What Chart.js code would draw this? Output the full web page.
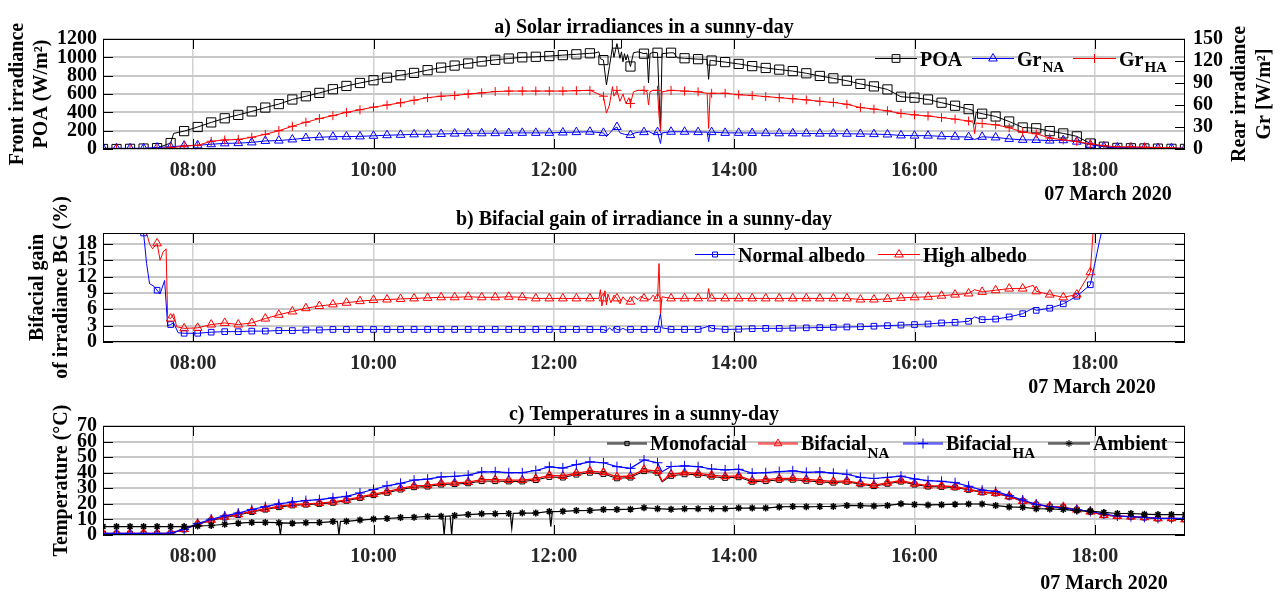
<!DOCTYPE html>
<html>
<head>
<meta charset="utf-8">
<script src="https://cdn.jsdelivr.net/npm/chart.js@4.4.1/dist/chart.umd.min.js"></script>
<style>
  body { margin: 0; background: #fff; }
  canvas { position: absolute; left: 0; }
</style>
</head>
<body>
<canvas id="irr" width="1281" height="205" style="top:0px"></canvas>
<canvas id="bg" width="1281" height="220" style="top:180px"></canvas>
<canvas id="temp" width="1281" height="192" style="top:400px"></canvas>
<script>
// sample times (every marker)
const times = [
  "07:00","07:09","07:18","07:27","07:36","07:45","07:54",
  "08:03","08:12","08:21","08:30","08:39","08:48","08:57",
  "09:06","09:15","09:24","09:33","09:42","09:51",
  "10:00","10:09","10:18","10:27","10:36","10:45","10:54",
  "11:03","11:12","11:21","11:30","11:39","11:48","11:57",
  "12:06","12:15","12:24","12:33","12:42","12:51",
  "13:00","13:09","13:18","13:27","13:36","13:45","13:54",
  "14:03","14:12","14:21","14:30","14:39","14:48","14:57",
  "15:06","15:15","15:24","15:33","15:42","15:51",
  "16:00","16:09","16:18","16:27","16:36","16:45","16:54",
  "17:03","17:12","17:21","17:30","17:39","17:48","17:57",
  "18:06","18:15","18:24","18:33","18:42","18:51","19:00"
];
const xTickHours = [8, 10, 12, 14, 16, 18];
const xTickLabels = ["08:00", "10:00", "12:00", "14:00", "16:00", "18:00"];
const dateLabel = "07 March 2020";

// a) irradiances
const poa = [0, 0, 2, 5, 10, 65, 195,
  240, 290, 335, 372, 410, 452, 490,
  540, 575, 612, 652, 688, 720,
  750, 778, 805, 830, 860, 888, 910,
  933, 955, 973, 987, 1000, 1006, 1014,
  1024, 1033, 1044, 970, 1150, 900,
  1040, 1050, 1050, 990, 980, 965, 948,
  928, 904, 884, 866, 850, 826, 797,
  771, 745, 710, 683, 650, 570,
  560, 540, 505, 472, 435, 385, 355,
  300, 235, 226, 195, 170, 138, 60,
  25, 12, 8, 6, 4, 2, 1];
const grNA = [1, 1, 1, 1, 2, 3, 4.5,
  5, 6.5, 7.7, 8, 9, 11, 11.5,
  13, 15, 16, 16.8, 17, 17.2,
  18, 18.8, 19.3, 20, 20, 20.5, 21,
  21.4, 21.4, 21.6, 21.8, 22, 22, 22,
  22.5, 23, 23.5, 22, 30, 19,
  23, 23, 23.5, 23.5, 23, 23, 22,
  22, 21.8, 21.6, 21.4, 21.4, 21.2, 21,
  21, 20.8, 20.6, 20.3, 19.8, 18.5,
  18.2, 18.2, 17.2, 16.8, 16.3, 16.6, 15.8,
  13.8, 12.5, 12.3, 11.5, 12, 10, 5.8,
  3.2, 2, 1.8, 1.6, 1.4, 1.2, 1];
const grHA = [0, 0, 0, 0, 0.5, 1.5, 4,
  5, 10.5, 12.3, 13, 16, 20, 25,
  31, 36.5, 41.5, 45.5, 50, 53.5,
  57, 60, 63, 66.5, 70, 72, 73,
  75, 76.5, 78.3, 79, 79, 79, 79,
  79, 79.5, 80, 72, 80, 62,
  80, 80, 80, 79, 78, 76, 76,
  74, 73, 71.5, 70, 68.5, 67, 65,
  63.5, 61, 56.5, 54.5, 52, 48.5,
  46.5, 45, 42.8, 40.7, 38.2, 34.7, 33,
  29, 23, 20.8, 15, 12.5, 10.2, 7,
  4.5, 3, 3, 2.5, 2, 1.5, 1];
// extra samples between markers (spikes, cloud passages)
const poaDetail = [["07:47", 170], ["12:27", 1046], ["12:30", 1060], ["12:31", 985], ["12:35", 700],
  ["12:37", 900], ["12:39", 1110], ["12:40", 1000], ["12:43", 1070], ["12:44", 990], ["12:45", 1060],
  ["12:46", 950], ["12:47", 1040], ["12:48", 970], ["12:49", 1030], ["12:53", 1050], ["12:56", 1060],
  ["13:02", 1045], ["13:03", 720], ["13:04", 1040], ["13:06", 1055], ["13:10", 600], ["13:11", 230],
  ["13:12", 1040], ["13:20", 1048], ["13:22", 995], ["13:42", 978], ["13:43", 760], ["13:44", 970],
  ["16:39", 420], ["16:40", 270], ["16:41", 400]];
const grNADetail = [["12:35", 17], ["12:37", 21], ["12:39", 26], ["12:44", 22], ["12:47", 20], ["12:54", 22],
  ["12:57", 23], ["13:03", 24], ["13:06", 21], ["13:10", 15], ["13:11", 7.5], ["13:12", 22],
  ["13:42", 23], ["13:43", 10], ["13:44", 23], ["16:40", 13]];
const grHADetail = [["12:35", 49], ["12:37", 60], ["12:39", 85], ["12:40", 72], ["12:44", 65], ["12:46", 75],
  ["12:48", 62], ["12:50", 70], ["12:53", 78], ["12:56", 80], ["13:02", 78], ["13:03", 60], ["13:04", 78],
  ["13:06", 80], ["13:10", 45], ["13:11", 25], ["13:12", 78], ["13:42", 76], ["13:43", 28], ["13:44", 76],
  ["16:39", 36.5], ["16:40", 21], ["16:41", 35.5]];

// b) bifacial gain (%)
const bgNA = [null, null, null, 20, 9.5, 3.2, 1.6,
  1.6, 1.8, 1.9, 1.9, 2.0, 2.0, 2.1,
  2.1, 2.2, 2.2, 2.3, 2.3, 2.3,
  2.3, 2.3, 2.3, 2.3, 2.3, 2.3, 2.3,
  2.3, 2.3, 2.3, 2.3, 2.3, 2.3, 2.3,
  2.3, 2.3, 2.3, 2.3, 2.3, 2.3,
  2.3, 2.3, 2.3, 2.3, 2.3, 2.5, 2.3,
  2.35, 2.45, 2.5, 2.5, 2.55, 2.6, 2.65,
  2.7, 2.75, 2.8, 2.9, 3.0, 3.1,
  3.2, 3.3, 3.5, 3.6, 3.8, 4.1, 4.2,
  4.6, 5.2, 5.8, 6.2, 7.0, 8.4, 10.5,
  22, null, null, null, null, null, null];
const bgHA = [null, null, null, null, 18.1, 4.3, 2.5,
  2.6, 3.2, 3.5, 3.2, 3.5, 4.3, 5.0,
  5.6, 6.2, 6.6, 6.9, 7.2, 7.5,
  7.7, 7.8, 7.9, 8.0, 8.1, 8.2, 8.2,
  8.3, 8.2, 8.2, 8.3, 8.2, 8.0, 8.0,
  8.0, 8.0, 8.0, 8.0, 8.0, 7.4,
  8.0, 8.0, 8.0, 8.0, 8.0, 8.0, 8.0,
  8.0, 8.0, 8.0, 8.0, 8.0, 8.0, 8.0,
  8.0, 8.0, 7.8, 7.8, 7.9, 8.1,
  8.2, 8.3, 8.5, 8.7, 8.9, 9.2, 9.5,
  9.8, 9.8, 9.3, 8.7, 8.2, 8.7, 12.8,
  null, null, null, null, null, null, null];
const bgNADetail = [["07:29", 14.4], ["07:31", 10.7], ["07:34", 10.2], ["07:38", 8.8], ["07:41", 11.3],
  ["07:43", 3.0], ["07:47", 3.5], ["07:50", 1.7], ["12:35", 2.0], ["12:37", 2.6], ["12:39", 2.1],
  ["12:40", 2.7], ["12:44", 2.2], ["12:46", 2.5], ["12:48", 2.2], ["13:10", 4.0], ["13:11", 5.2],
  ["13:12", 2.6], ["13:43", 2.9], ["16:40", 4.6], ["17:19", 6.2], ["18:00", 14.4], ["18:03", 18.4]];
const bgHADetail = [["07:28", 21], ["07:31", 18], ["07:33", 17.1], ["07:38", 15], ["07:40", 16.5],
  ["07:42", 17.1], ["07:43", 4.6], ["07:47", 5.2], ["07:49", 2.8], ["12:30", 8.0], ["12:31", 9.6],
  ["12:32", 6.6], ["12:34", 9.4], ["12:35", 6.8], ["12:36", 8.8], ["12:38", 7.2], ["12:40", 8.6],
  ["12:44", 7.0], ["12:46", 8.3], ["12:48", 7.6], ["12:53", 8.4], ["12:56", 7.8], ["12:58", 8.4],
  ["13:04", 7.8], ["13:06", 8.6], ["13:08", 7.9], ["13:10", 14.4], ["13:11", 5.2], ["13:12", 8.3],
  ["13:42", 8.0], ["13:43", 9.8], ["13:44", 8.2], ["16:40", 9.6], ["17:19", 10.4], ["18:00", 25]];

// c) temperatures (°C)
const tMono = [0.8, 0.8, 0.8, 0.8, 0.8, 1.0, 3.5,
  6.8, 9.3, 11.2, 12.8, 14.8, 16.3, 17.9,
  19.0, 19.5, 20.0, 20.7, 22.0, 23.8,
  25.6, 27.1, 29.2, 30.7, 31.1, 32.4, 32.7,
  33.2, 34.6, 34.6, 34.4, 34.4, 35.3, 37.3,
  36.9, 38.8, 40.0, 39.2, 36.4, 36.9,
  41.0, 40.0, 38.0, 39.0, 38.7, 37.5, 36.7,
  37.1, 34.2, 34.6, 35.4, 35.5, 34.8, 34.1,
  33.6, 34.2, 32.6, 31.4, 32.9, 34.3,
  32.4, 31.1, 30.9, 30.5, 29.0, 27.3, 26.7,
  24.6, 21.7, 19.5, 18.2, 17.8, 16.2, 14.9,
  12.7, 12.1, 11.7, 11.2, 10.6, 10.6, 10.0];
const tBifNA = [1.1, 1.1, 1.1, 1.1, 1.1, 1.2, 3.8,
  7.2, 9.7, 11.6, 13.2, 15.3, 16.8, 18.5,
  19.5, 20.0, 20.5, 21.3, 22.6, 24.5,
  26.3, 27.8, 30.0, 31.5, 31.9, 33.2, 33.5,
  34.0, 35.5, 35.5, 35.3, 35.3, 36.2, 38.3,
  37.9, 39.8, 41.0, 40.2, 37.4, 37.9,
  42.0, 41.0, 39.0, 40.0, 39.6, 38.5, 37.6,
  38.0, 35.0, 35.5, 36.3, 36.4, 35.7, 35.0,
  34.4, 34.8, 33.2, 32.0, 33.5, 35.0,
  33.0, 31.7, 31.5, 31.0, 29.4, 27.6, 26.9,
  24.8, 21.8, 19.6, 18.3, 17.9, 16.3, 15.0,
  12.8, 12.2, 11.8, 11.3, 10.7, 10.7, 10.1];
const tBifHA = [1.1, 1.1, 1.1, 1.1, 1.1, 1.3, 3.6,
  7.3, 10.1, 12.3, 14.1, 16.4, 18.2, 20.0,
  21.2, 22.1, 22.7, 23.8, 24.8, 27.0,
  29.2, 31.6, 33.2, 35.3, 35.9, 37.3, 37.7,
  38.4, 40.5, 40.6, 40.0, 40.0, 41.4, 43.8,
  43.0, 45.2, 47.0, 46.4, 43.9, 42.8,
  48.2, 46.4, 44.0, 44.4, 43.9, 42.4, 41.8,
  42.2, 39.7, 40.0, 40.7, 41.2, 40.2, 40.5,
  39.7, 39.0, 37.0, 36.3, 37.0, 37.8,
  36.0, 34.9, 34.5, 33.6, 31.3, 28.8, 28.0,
  25.3, 22.5, 19.7, 18.3, 17.3, 16.3, 15.1,
  13.5, 12.2, 11.8, 11.3, 10.7, 10.7, 10.7];
const tAmb = [5.4, 5.4, 5.4, 5.4, 5.4, 5.4, 5.4,
  5.8, 6.1, 6.9, 7.6, 8.1, 8.1, 7.9,
  7.6, 7.9, 8.0, 8.6, 8.8, 9.6,
  10.2, 10.6, 11.2, 11.4, 11.9, 12.0, 12.5,
  13.1, 13.6, 13.7, 13.8, 14.1, 14.1, 15.1,
  15.2, 15.7, 15.8, 16.3, 16.3, 16.6,
  17.5, 16.9, 16.5, 16.9, 16.9, 16.9, 16.9,
  17.3, 17.3, 17.3, 18.0, 18.3, 18.1, 18.3,
  18.3, 19.0, 18.9, 18.6, 19.0, 20.0,
  19.6, 19.3, 19.5, 19.8, 19.9, 19.9, 18.9,
  18.0, 17.8, 16.9, 16.7, 16.5, 15.5, 15.4,
  14.5, 13.8, 13.8, 13.4, 13.1, 13.1, 13.1];
const tMonoDetail = [["13:12", 34.0]];
const tBifNADetail = [["13:12", 34.7]];
const tBifHADetail = [["13:12", 40.6]];
const tAmbDetail = [["08:58", 0], ["08:59", 7.8], ["09:36", 8.7], ["09:37", 0], ["09:38", 8.7],
  ["10:46", 11.9], ["10:47", 0], ["10:48", 12.0], ["10:51", 12.2], ["10:52", 0], ["10:53", 12.3],
  ["11:31", 13.8], ["11:32", 4.3], ["11:33", 13.9], ["11:58", 5.3], ["11:59", 15.0]];

const FONT = '"Liberation Serif", "Times New Roman", serif';

const toH = s => { const p = s.split(":"); return +p[0] + p[1] / 60; };

function series(vals, detail) {
    let pts = times.map((t, i) => ({ x: toH(t), y: vals[i], m: 1 }));
    detail.forEach(d => pts.push({ x: toH(d[0]), y: d[1], m: 0 }));
    return pts.sort((a, b) => a.x - b.x);
}

function ds(label, vals, detail, color, style, r, opts) {
    return Object.assign({
        label: label,
        data: series(vals, detail),
        borderColor: color,
        borderWidth: 1,
        pointStyle: style,
        pointRadius: c => (c.raw && c.raw.m ? r : 0),
        pointHoverRadius: 0,
        pointBorderColor: color,
        pointBackgroundColor: "rgba(0,0,0,0)",
        pointBorderWidth: 1,
        tension: 0,
        yAxisID: "y"
    }, opts || {});
}

function xAxis(height) {
    return {
        type: "linear", min: 7, max: 19,
        afterBuildTicks: s => { s.ticks = xTickHours.map(v => ({ value: v })); },
        afterFit: s => { s.height = height; },
        ticks: {
            callback: (v, i) => xTickLabels[i],
            color: "#262626", padding: 10, maxRotation: 0, autoSkip: false,
            font: { family: FONT, size: 20, weight: "bold" }
        },
        grid: { color: "#d2d2d2", lineWidth: 1.5, drawTicks: false },
        border: { display: false }
    };
}

function yAxis(min, max, step, title, titlePad) {
    let vals = [];
    for (let v = min; v <= max; v += step) vals.push(v);
    return {
        position: "left", min: min, max: max,
        afterBuildTicks: s => { s.ticks = vals.map(v => ({ value: v })); },
        afterFit: s => { s.width = 103; },
        ticks: {
            callback: v => String(v), color: "#000", padding: 6, autoSkip: false,
            font: { family: FONT, size: 20, weight: "bold" }
        },
        grid: { color: "#c8c8c8", lineWidth: 2, drawTicks: false },
        border: { display: false },
        title: {
            display: true, text: title, color: "#000",
            font: { family: FONT, size: 20, weight: "bold", lineHeight: 1.2 },
            padding: { top: titlePad, bottom: 0 }
        }
    };
}

// frame with inward ticks, panel title, date, right title and legend
const decor = {
    id: "decor",
    afterDatasetsDraw(chart, args, o) {
        const ctx = chart.ctx, a = chart.chartArea, xs = chart.scales.x;
        const yl = chart.scales.y, yr = chart.scales[o.rightAxis || "y"];
        ctx.save();
        ctx.strokeStyle = "#000";
        ctx.lineWidth = 1;
        ctx.strokeRect(a.left + 0.5, a.top + 0.5, a.right - a.left - 1, a.bottom - a.top - 1);
        ctx.beginPath();
        xs.ticks.forEach(t => {
            let px = Math.round(xs.getPixelForValue(t.value)) + 0.5;
            ctx.moveTo(px, a.top); ctx.lineTo(px, a.top + 10);
            ctx.moveTo(px, a.bottom); ctx.lineTo(px, a.bottom - 10);
        });
        yl.ticks.forEach(t => {
            let py = Math.round(yl.getPixelForValue(t.value)) + 0.5;
            ctx.moveTo(a.left, py); ctx.lineTo(a.left + 10, py);
        });
        yr.ticks.forEach(t => {
            let py = Math.round(yr.getPixelForValue(t.value)) + 0.5;
            ctx.moveTo(a.right, py); ctx.lineTo(a.right - 10, py);
        });
        ctx.stroke();

        ctx.fillStyle = "#000";
        ctx.font = "bold 20px " + FONT;
        ctx.textAlign = "center";
        ctx.textBaseline = "alphabetic";
        ctx.fillText(o.title, (a.left + a.right) / 2, o.titleY);
        ctx.fillText(dateLabel, o.dateX, o.dateY);

        if (o.rightTitle) {
            o.rightTitle.forEach((s, i) => {
                ctx.save();
                ctx.translate(o.rightTitleX[i], (a.top + a.bottom) / 2);
                ctx.rotate(-Math.PI / 2);
                ctx.textBaseline = "middle";
                ctx.fillText(s, 0, 0);
                ctx.restore();
            });
        }

        o.legend.forEach(it => {
            ctx.strokeStyle = it.color;
            ctx.globalAlpha = o.legendAlpha || 1;
            ctx.lineWidth = o.legendLineWidth || 1;
            ctx.beginPath();
            ctx.moveTo(it.x, o.lineY + 0.5);
            ctx.lineTo(it.x + it.len, o.lineY + 0.5);
            ctx.stroke();
            ctx.globalAlpha = 1;
            ctx.lineWidth = 1;
            ctx.fillStyle = "rgba(0,0,0,0)";
            Chart.helpers.drawPoint(ctx, { pointStyle: it.style, radius: it.r, rotation: 0, borderWidth: 1 },
                it.x + it.len / 2, o.lineY + 0.5);
            ctx.fillStyle = "#000";
            ctx.textAlign = "left";
            ctx.textBaseline = "alphabetic";
            ctx.font = "bold 20px " + FONT;
            let tx = it.x + it.len + 3;
            ctx.fillText(it.label, tx, o.textY);
            if (it.sub) {
                tx += ctx.measureText(it.label).width;
                ctx.font = "bold 15px " + FONT;
                ctx.fillText(it.sub, tx + 1, o.textY + o.subDy);
            }
        });
        ctx.restore();
    }
};

function baseOptions(padding, scales, decorOpts) {
    return {
        responsive: false,
        animation: false,
        devicePixelRatio: 1,
        events: [],
        layout: { padding: padding, autoPadding: false },
        scales: scales,
        plugins: {
            legend: { display: false },
            title: { display: false },
            tooltip: { enabled: false },
            decor: decorOpts
        }
    };
}

// a) Solar irradiances
let rightAxis = {
    position: "right", min: 0, max: 150,
    afterBuildTicks: s => { s.ticks = [0, 30, 60, 90, 120, 150].map(v => ({ value: v })); },
    afterFit: s => { s.width = 96; },
    ticks: { callback: v => String(v), color: "#000", padding: 8, autoSkip: false, font: { family: FONT, size: 20, weight: "bold" } },
    grid: { drawOnChartArea: false, drawTicks: false },
    border: { display: false }
};

new Chart(document.getElementById("irr"), {
    type: "line",
    data: {
        datasets: [
            ds("GrHA", grHA, grHADetail, "#ff0000", "cross", 4.5, { yAxisID: "y2", order: 0 }),
            ds("GrNA", grNA, grNADetail, "#0000ff", "triangle", 5, { yAxisID: "y2", order: 1 }),
            ds("POA", poa, poaDetail, "#000000", "rect", 6.5, { order: 2 })
        ]
    },
    options: baseOptions({ top: 39, left: 0, right: 0, bottom: 0 }, {
        x: xAxis(56),
        y: yAxis(0, 1200, 200, ["Front irradiance", "POA (W/m\u00b2)"], 6),
        y2: rightAxis
    }, {
        title: "a) Solar irradiances in a sunny-day", titleY: 33,
        dateX: 1108, dateY: 200,
        rightAxis: "y2",
        rightTitle: ["Rear irradiance", "Gr [W/m\u00b2]"], rightTitleX: [1240, 1265],
        lineY: 58, textY: 66, subDy: 6,
        legend: [
            { label: "POA", color: "#000000", style: "rect", r: 5.5, x: 875, len: 42 },
            { label: "Gr", sub: "NA", color: "#0000ff", style: "triangle", r: 5, x: 972, len: 42 },
            { label: "Gr", sub: "HA", color: "#ff0000", style: "cross", r: 4.5, x: 1073, len: 43 }
        ]
    }),
    plugins: [decor]
});

// b) Bifacial gain (canvas starts at page y 180)
new Chart(document.getElementById("bg"), {
    type: "line",
    data: {
        datasets: [
            ds("High albedo", bgHA, bgHADetail, "#ff0000", "triangle", 5, { order: 0 }),
            ds("Normal albedo", bgNA, bgNADetail, "#0000ff", "rect", 4, { order: 1 })
        ]
    },
    options: baseOptions({ top: 53, left: 0, right: 96, bottom: 0 }, {
        x: xAxis(58),
        y: yAxis(0, 20, 3, ["Bifacial gain", "of irradiance BG (%)"], 26)
    }, {
        title: "b) Bifacial gain of irradiance in a sunny-day", titleY: 45,
        dateX: 1092, dateY: 213,
        lineY: 74, textY: 82, subDy: 6,
        legend: [
            { label: "Normal albedo", color: "#0000ff", style: "rect", r: 3.5, x: 695, len: 40 },
            { label: "High albedo", color: "#ff0000", style: "triangle", r: 5, x: 878, len: 42 }
        ]
    }),
    plugins: [decor]
});

// c) Temperatures
new Chart(document.getElementById("temp"), {
    type: "line",
    data: {
        datasets: [
            ds("Ambient", tAmb, tAmbDetail, "#000000", "star", 3.5, { order: 0, borderWidth: 1.2, pointBorderWidth: 1.5 }),
            ds("BifacialHA", tBifHA, tBifHADetail, "#0000ff", "cross", 5, { order: 1, borderWidth: 1.2 }),
            ds("BifacialNA", tBifNA, tBifNADetail, "#ff0000", "triangle", 4.5, { order: 2, borderWidth: 1.3, pointBorderWidth: 1.3 }),
            ds("Monofacial", tMono, tMonoDetail, "#000000", "rect", 3.5, { order: 3 })
        ]
    },
    options: baseOptions({ top: 26, left: 0, right: 96, bottom: 0 }, {
        x: xAxis(57),
        y: yAxis(0, 70, 10, "Temperature (\u00b0C)", 50)
    }, {
        title: "c) Temperatures in a sunny-day", titleY: 20,
        dateX: 1104, dateY: 189,
        lineY: 43, textY: 50, subDy: 8,
        legendAlpha: 0.6, legendLineWidth: 2.5,
        legend: [
            { label: "Monofacial", color: "#000000", style: "rect", r: 3, x: 607, len: 40 },
            { label: "Bifacial", sub: "NA", color: "#ff0000", style: "triangle", r: 4.5, x: 758, len: 40 },
            { label: "Bifacial", sub: "HA", color: "#0000ff", style: "cross", r: 5, x: 903, len: 40 },
            { label: "Ambient", color: "#000000", style: "star", r: 3.5, x: 1048, len: 42 }
        ]
    }),
    plugins: [decor]
});
</script>
</body>
</html>
